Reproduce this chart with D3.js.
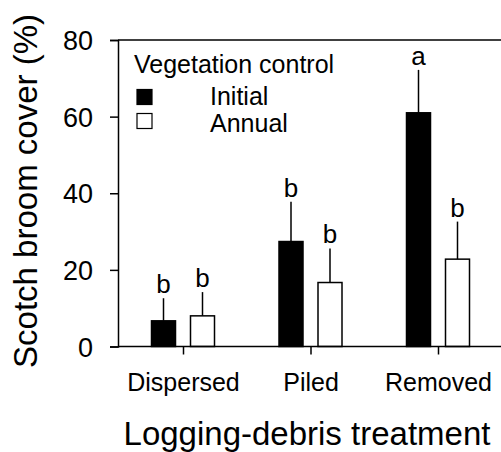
<!DOCTYPE html>
<html>
<head>
<meta charset="utf-8">
<script src="https://cdn.jsdelivr.net/npm/d3@7"></script>
<style>
  body { margin: 0; background: #fff; }
  text { font-family: "Liberation Sans", Arial, sans-serif; fill: #000; }
</style>
</head>
<body>
<div id="chart"></div>
<script>
// treatments and vegetation control groups
const treatments = ["Dispersed", "Piled", "Removed"]
const controls = ["Initial", "Annual"]

// mean cover (%) per treatment, one array for each control
const initialMean = [6.7, 27.4, 61.0]
const annualMean = [8.0, 16.7, 22.8]
// upper end of the error bars
const initialUpper = [12.6, 37.8, 72.2]
const annualUpper = [14.2, 25.6, 32.6]
// significance letters
const initialLetters = ["b", "b", "a"]
const annualLetters = ["b", "b", "b"]

const yTicks = [0, 20, 40, 60, 80]

const width = 501, height = 452
const margin = { top: 40, left: 118, bottom: 105 }

const svg = d3.select("#chart").append("svg")
    .attr("width", width)
    .attr("height", height)

// scales
const x = d3.scalePoint()
    .domain(treatments)
    .range([183, 438])

const y = d3.scaleLinear()
    .domain([0, 80])
    .range([height - margin.bottom - 0.5, margin.top])

const barW = 24
const offset = 19.5  // distance from group centre to bar centre

// build bar rows from the arrays
var bars = []
treatments.forEach(function(t, i) {
    bars.push({ t: t, c: "Initial", mean: initialMean[i], upper: initialUpper[i], letter: initialLetters[i], dx: -offset })
    bars.push({ t: t, c: "Annual", mean: annualMean[i], upper: annualUpper[i], letter: annualLetters[i], dx: offset })
})

// frame: top and bottom lines run off to the right
svg.append("line")
    .attr("x1", margin.left).attr("x2", width)
    .attr("y1", y(80)).attr("y2", y(80))
    .attr("stroke", "#000").attr("stroke-width", 1.5)

// y axis
const yAxis = svg.append("g")
    .attr("transform", "translate(" + margin.left + ",0)")
    .call(d3.axisLeft(y).tickValues(yTicks).tickSize(8).tickPadding(17))
yAxis.select(".domain").attr("stroke-width", 1.5)
yAxis.selectAll(".tick line").attr("stroke-width", 1.5)
yAxis.selectAll(".tick text").style("font-size", "27px").attr("dy", "0.36em")

// error bars
svg.append("g").selectAll("line")
    .data(bars)
    .enter()
    .append("line")
        .attr("x1", function(d) { return x(d.t) + d.dx })
        .attr("x2", function(d) { return x(d.t) + d.dx })
        .attr("y1", function(d) { return y(d.mean) })
        .attr("y2", function(d) { return y(d.upper) })
        .attr("stroke", "#000")
        .attr("stroke-width", 1.5)

// bars
svg.append("g").selectAll("rect")
    .data(bars)
    .enter()
    .append("rect")
        .attr("x", function(d) { return x(d.t) + d.dx - barW / 2 })
        .attr("y", function(d) { return y(d.mean) })
        .attr("width", barW)
        .attr("height", function(d) { return y(0) - y(d.mean) })
        .attr("fill", function(d) { return d.c == "Initial" ? "#000" : "#fff" })
        .attr("stroke", "#000")
        .attr("stroke-width", 1.5)

// letters above error bars
svg.append("g").selectAll("text")
    .data(bars)
    .enter()
    .append("text")
        .attr("x", function(d) { return x(d.t) + d.dx })
        .attr("y", function(d) { return y(d.upper) - 5 })
        .attr("text-anchor", "middle")
        .style("font-size", "26px")
        .text(function(d) { return d.letter })

// x axis line and ticks
const xAxis = svg.append("g")
    .attr("transform", "translate(0," + y(0) + ")")
    .call(d3.axisBottom(x).tickSize(8).tickSizeOuter(0))
xAxis.select(".domain").attr("d", "M" + margin.left + ",0H" + width).attr("stroke-width", 1.5)
xAxis.selectAll(".tick line").attr("stroke-width", 1.5)
xAxis.selectAll(".tick text")
    .style("font-size", "25px")
    .attr("y", 391 - y(0))
    .attr("dy", null)

// axis titles
svg.append("text")
    .attr("transform", "translate(37,191) rotate(-90)")
    .attr("text-anchor", "middle")
    .style("font-size", "33px")
    .text("Scotch broom cover (%)")

svg.append("text")
    .attr("x", 307)
    .attr("y", 445)
    .attr("text-anchor", "middle")
    .style("font-size", "33px")
    .text("Logging-debris treatment")

// legend
const legend = svg.append("g")
legend.append("text")
    .attr("x", 134).attr("y", 73)
    .style("font-size", "25px")
    .text("Vegetation control")
legend.selectAll("rect")
    .data(controls)
    .enter()
    .append("rect")
        .attr("x", 137)
        .attr("y", function(d, i) { return 89.5 + i * 24 })
        .attr("width", 15).attr("height", 15)
        .attr("fill", function(d) { return d == "Initial" ? "#000" : "#fff" })
        .attr("stroke", "#000").attr("stroke-width", 1.2)
legend.selectAll(".lab")
    .data(controls)
    .enter()
    .append("text")
        .attr("class", "lab")
        .attr("x", 210)
        .attr("y", function(d, i) { return 105 + i * 26.5 })
        .style("font-size", "25px")
        .text(function(d) { return d })
</script>
</body>
</html>
